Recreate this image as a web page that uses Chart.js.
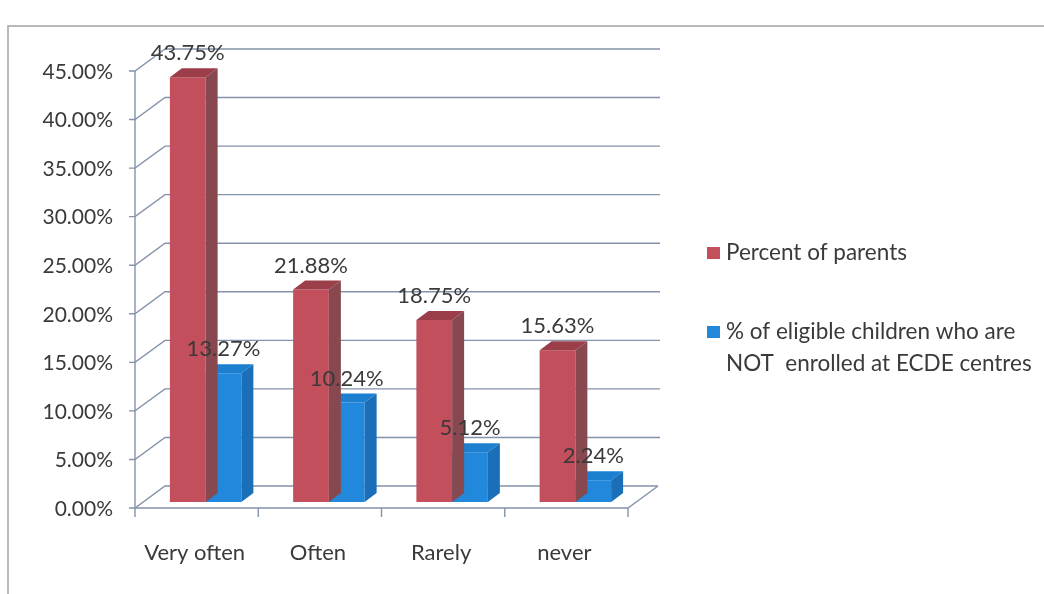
<!DOCTYPE html>
<html>
<head>
<meta charset="utf-8">
<script src="https://cdn.jsdelivr.net/npm/chart.js@4.4.1/dist/chart.umd.min.js"></script>
<style>
html, body { margin: 0; padding: 0; background: #fff; }
canvas { display: block; }
</style>
</head>
<body>
<canvas id="chart" width="1044" height="594"></canvas>
<script>
const categories = ['Very often', 'Often', 'Rarely', 'never'];
const parentsPct = [43.75, 21.88, 18.75, 15.63];
const notEnrolledPct = [13.27, 10.24, 5.12, 2.24];
const seriesNames = ['Percent of parents', '% of eligible children who are NOT  enrolled at ECDE centres'];
const legendLines = [['Percent of parents'], ['% of eligible children who are', 'NOT  enrolled at ECDE centres']];
const yTicks = [0, 5, 10, 15, 20, 25, 30, 35, 40, 45];

const FAMILY = 'Lato, "Open Sans", sans-serif';
const TEXT = '#3a3a3a';
const GRID = '#8393aa';

// fake 3D: bar depth, and where the front axis / back wall sit relative to the bar plane
const DEPTH = { x: 12, y: -9 };
const FRONT = { x: -9, y: 6 };
const BACK = { x: 21, y: -16 };
const faces = [
    { front: '#c24f5b', top: '#9c3e4a', side: '#874850' },
    { front: '#2288dc', top: '#1c7fd0', side: '#1a6fb8' }
];

function line(ctx, pts) {
    ctx.beginPath();
    ctx.moveTo(pts[0][0], pts[0][1]);
    for (let i = 1; i < pts.length; i++) ctx.lineTo(pts[i][0], pts[i][1]);
    ctx.stroke();
}

function poly(ctx, pts, color) {
    ctx.beginPath();
    ctx.moveTo(pts[0][0], pts[0][1]);
    for (let i = 1; i < pts.length; i++) ctx.lineTo(pts[i][0], pts[i][1]);
    ctx.closePath();
    ctx.fillStyle = color;
    ctx.fill();
}

const frame3d = {
    id: 'frame3d',
    beforeDatasetsDraw(chart) {
        const ctx = chart.ctx, x = chart.scales.x, y = chart.scales.y, area = chart.chartArea;
        ctx.save();

        // outer border
        ctx.strokeStyle = '#a3a3a3';
        ctx.lineWidth = 1.5;
        line(ctx, [[8, 594], [8, 26], [1044, 26]]);

        const fl = area.left + FRONT.x, fr = area.right + FRONT.x;
        const bl = area.left + BACK.x, br = area.right + BACK.x;
        ctx.strokeStyle = GRID;
        ctx.lineWidth = 1.4;
        ctx.font = '21px ' + FAMILY;
        ctx.fillStyle = TEXT;
        ctx.textAlign = 'right';
        ctx.textBaseline = 'middle';
        yTicks.forEach(v => {
            const py = y.getPixelForValue(v);
            line(ctx, [[fl - 6, py + FRONT.y], [fl, py + FRONT.y], [bl, py + BACK.y], [v > 0 ? br + 2 : br, py + BACK.y]]);
            ctx.fillText(v.toFixed(2) + '%', fl - 22, py + FRONT.y + 1);
        });

        // floor and vertical axis
        const y0 = y.getPixelForValue(0);
        line(ctx, [[fl, y0 + FRONT.y], [fr, y0 + FRONT.y], [br, y0 + BACK.y]]);
        line(ctx, [[fl, y.getPixelForValue(yTicks[yTicks.length - 1]) + FRONT.y], [fl, y0 + FRONT.y]]);

        // category ticks and labels
        const step = area.width / categories.length;
        for (let i = 0; i <= categories.length; i++) {
            const px = area.left + i * step + FRONT.x;
            line(ctx, [[px, y0 + FRONT.y], [px, y0 + FRONT.y + 9]]);
        }
        ctx.font = '22px ' + FAMILY;
        ctx.textAlign = 'center';
        categories.forEach((c, i) => {
            ctx.fillText(c, x.getPixelForValue(i) + FRONT.x - 2, 553);
        });
        ctx.restore();
    },
    afterDatasetDraw(chart, args) {
        const ctx = chart.ctx;
        const f = faces[args.index];
        ctx.save();
        args.meta.data.forEach(bar => {
            const p = bar.getProps(['x', 'y', 'base', 'width'], true);
            const l = p.x - p.width / 2, r = p.x + p.width / 2, t = p.y, b = p.base;
            poly(ctx, [[l, t], [r, t], [r + DEPTH.x, t + DEPTH.y], [l + DEPTH.x, t + DEPTH.y]], f.top);
            poly(ctx, [[r, t], [r + DEPTH.x, t + DEPTH.y], [r + DEPTH.x, b + DEPTH.y], [r, b]], f.side);
        });
        ctx.restore();
    },
    afterDraw(chart) {
        const ctx = chart.ctx;
        ctx.save();
        ctx.font = '22px ' + FAMILY;
        ctx.fillStyle = TEXT;
        ctx.textAlign = 'center';
        ctx.textBaseline = 'middle';
        chart.data.datasets.forEach((ds, di) => {
            chart.getDatasetMeta(di).data.forEach((bar, i) => {
                const p = bar.getProps(['x', 'y'], true);
                ctx.fillText(ds.data[i].toFixed(2) + '%', p.x, p.y - 24);
            });
        });

        // legend
        const rows = [253, 332];
        ctx.font = '22.5px ' + FAMILY;
        ctx.textAlign = 'left';
        legendLines.forEach((lines, i) => {
            ctx.fillStyle = faces[i].front;
            ctx.fillRect(707, rows[i] - 6, 13, 12);
            ctx.fillStyle = TEXT;
            lines.forEach((s, j) => ctx.fillText(s, 726, rows[i] + j * 32));
        });
        ctx.restore();
    }
};

new Chart(document.getElementById('chart'), {
    type: 'bar',
    data: {
        labels: categories,
        datasets: [
            { label: seriesNames[0], data: parentsPct, backgroundColor: faces[0].front, categoryPercentage: 0.58, barPercentage: 1 },
            { label: seriesNames[1], data: notEnrolledPct, backgroundColor: faces[1].front, categoryPercentage: 0.58, barPercentage: 1 }
        ]
    },
    options: {
        responsive: false,
        animation: false,
        events: [],
        layout: { padding: { left: 144, right: 407, top: 65, bottom: 92 } },
        scales: {
            x: { display: false },
            y: { display: false, min: 0, max: 45 }
        },
        plugins: {
            legend: { display: false },
            tooltip: { enabled: false }
        }
    },
    plugins: [frame3d]
});
</script>
</body>
</html>
